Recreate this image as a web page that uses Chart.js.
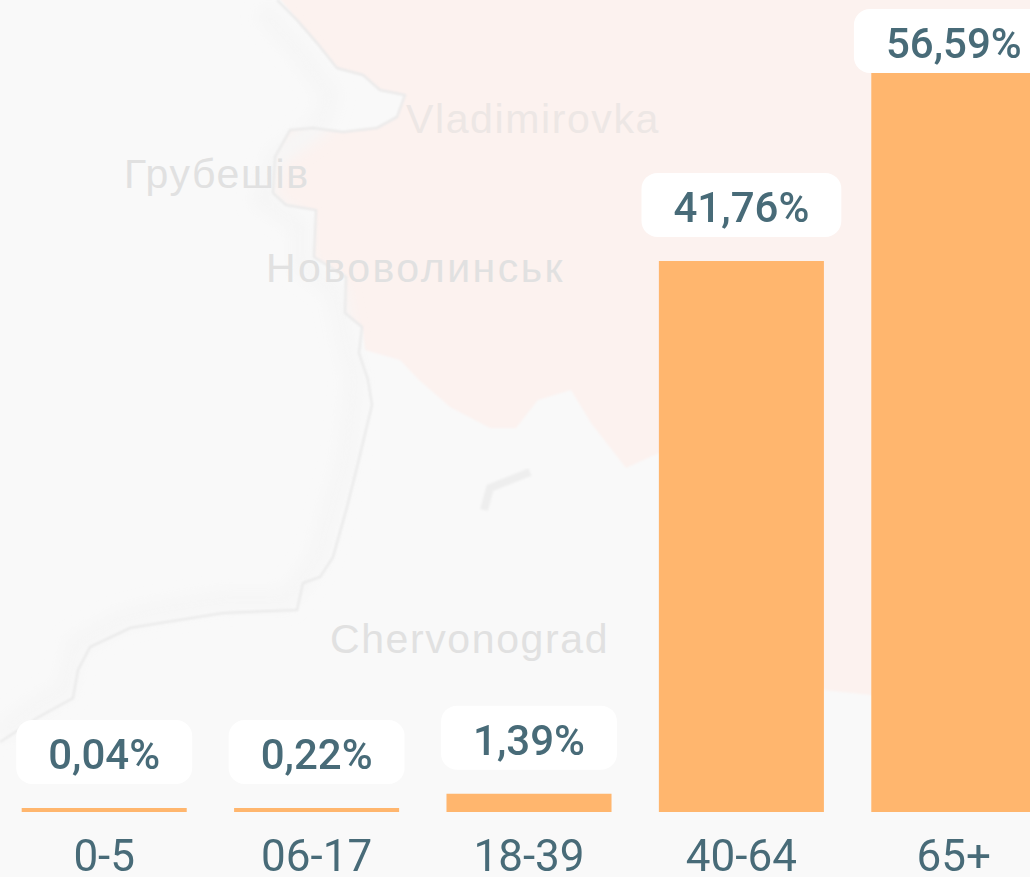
<!DOCTYPE html>
<html>
<head>
<meta charset="utf-8">
<style>
  html, body { margin: 0; height: 100%; overflow: hidden; background: #f9f9f9; }
  #map { position: absolute; left: 0; top: 0; }
  #wrap { position: absolute; left: -2px; top: 0; width: 1062px; height: 877px; }
  .place { position: absolute; font-family: "Liberation Sans", sans-serif; font-size: 41px; letter-spacing: 1.6px; color: #e1e1e1; white-space: nowrap; }
</style>
<script src="https://cdn.jsdelivr.net/npm/chart.js@4"></script>
</head>
<body>
<svg id="map" width="1030" height="877" viewBox="0 0 1030 877">
  <defs>
    <filter id="soft"><feGaussianBlur stdDeviation="0.8"/></filter>
    <filter id="wide"><feGaussianBlur stdDeviation="7"/></filter>
  </defs>
  <path d="M277 -5L297 20L317 43L337 68L363 75L380 90L405 95L397 117L377 128L343 132L313 128L290 130L275 157L273 193L286 205L316 210L314 257L346 277L345 313L362 327L365 350L400 360L419 380L450 407L490 428L516 428L538 400L571 390L591 423L626 468L659 453L824 690L871 695L1040 690L1040 -5Z" fill="#fcf2ef" filter="url(#soft)"/>
  <path d="M262 10L297 50L330 95L320 125L275 157L262 200L300 225L300 265L335 290L345 340L355 380L345 463L332 507L318 557L300 583L285 600L223 600L160 610L120 620L75 645L65 690L30 710L0 735" fill="none" stroke="#f6f6f6" stroke-width="20" filter="url(#wide)"/>
  <path d="M277 0L297 20L317 43L337 68L363 75L380 90L405 95L397 117L377 128L343 132L313 128L290 130L275 157L273 193L286 205L316 210L314 257L346 277L345 313L362 327L359 353L368 380L372 405L358 463L347 507L333 557L320 577L303 583L297 610L223 613L160 623L130 628L90 647L78 670L73 698L37 718L0 742" fill="none" stroke="#e8e8e8" stroke-width="2" filter="url(#soft)"/>
  <path d="M484 510L490 488L530 472" fill="none" stroke="#eeeeee" stroke-width="8" filter="url(#soft)"/>
</svg>
<div class="place" style="left:406px;top:96px;color:#ede7e5">Vladimirovka</div>
<div class="place" style="left:124px;top:151px">Грубешів</div>
<div class="place" style="left:266px;top:245px;letter-spacing:2.5px">Нововолинськ</div>
<div class="place" style="left:330px;top:616px">Chervonograd</div>
<div id="wrap"><canvas id="chart"></canvas></div>
<script>
const ageGroups = ["0-5", "06-17", "18-39", "40-64", "65+"];
const shares = [0.04, 0.22, 1.39, 41.76, 56.59];
const shareLabels = ["0,04%", "0,22%", "1,39%", "41,76%", "56,59%"];

const textColor = "#486b78";
const barColor = "#ffb66e";

// white rounded boxes above the bars
const pillLabels = {
  id: "pillLabels",
  afterDatasetsDraw(chart) {
    const ctx = chart.ctx;
    const bars = chart.getDatasetMeta(0).data;
    ctx.save();
    ctx.font = "500 42px Roboto, sans-serif";
    ctx.textAlign = "center";
    ctx.textBaseline = "alphabetic";
    bars.forEach((bar, i) => {
      const label = shareLabels[i];
      const w = ctx.measureText(label).width + 64;
      const h = 64;
      const top = Math.max(9, bar.y - 24 - h);
      ctx.fillStyle = "#fff";
      ctx.beginPath();
      ctx.roundRect(bar.x - w / 2, top, w, h, 16);
      ctx.fill();
      ctx.fillStyle = textColor;
      ctx.fillText(label, bar.x, top + 49);
    });
    ctx.restore();
  },
};

new Chart(document.getElementById("chart"), {
  type: "bar",
  data: {
    labels: ageGroups,
    datasets: [
      {
        data: shares,
        backgroundColor: barColor,
        categoryPercentage: 0.777,
        barPercentage: 1,
        minBarLength: 4,
      },
    ],
  },
  options: {
    responsive: true,
    maintainAspectRatio: false,
    animation: false,
    layout: {
      padding: { top: 73, left: 0, right: 0, bottom: 0 },
    },
    scales: {
      x: {
        grid: { display: false },
        border: { display: false },
        afterFit: (scale) => {
          scale.height = 65;
        },
        ticks: {
          color: textColor,
          padding: 14,
          maxRotation: 0,
          font: { family: "Roboto, sans-serif", size: 44 },
        },
      },
      y: {
        display: false,
        min: 0,
        max: 56,
      },
    },
    plugins: {
      legend: { display: false },
      tooltip: { enabled: false },
    },
  },
  plugins: [pillLabels],
});
</script>
</body>
</html>
